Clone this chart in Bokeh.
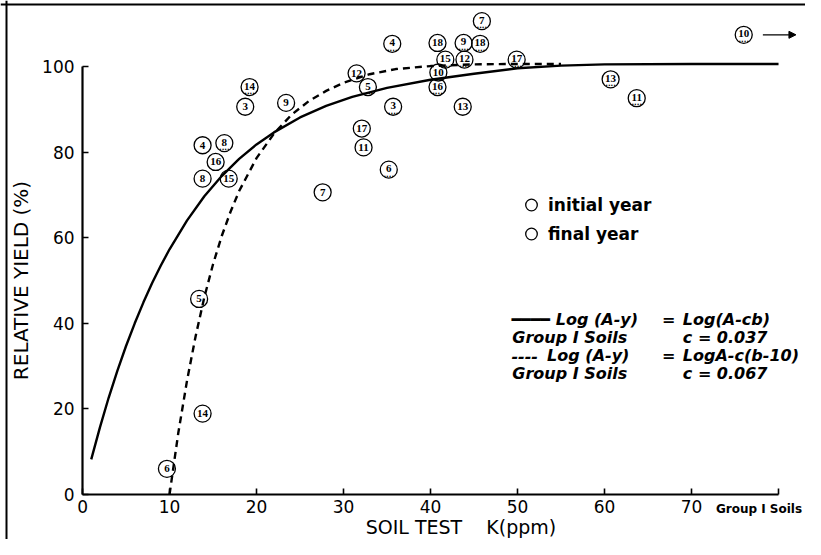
from bokeh.plotting import figure
from bokeh.models import (Range1d, LinearAxis, FixedTicker, Legend, LegendItem,
                          Arrow, NormalHead, Span, ColumnDataSource)
from bokeh.core.properties import value
from bokeh.embed import file_html
from bokeh.resources import INLINE

# ---------------- data ----------------
final_soil = ["3", "9", "4", "16", "8", "15", "7", "18", "12", "10", "13", "17", "11", "5", "14", "6"]
final_k = [18.7, 23.4, 13.8, 15.3, 13.8, 16.8, 27.6, 40.8, 31.5, 40.9, 43.7, 32.1, 32.3, 13.4, 13.8, 9.7]
final_yield = [90.6, 91.5, 81.6, 77.7, 73.8, 73.8, 70.6, 105.5, 98.4, 98.6, 90.6, 85.5, 81.1, 45.7, 18.9, 6.0]

initial_soil = ["14", "8", "7", "4", "9", "18", "15", "12", "17", "5", "16", "3", "6", "10", "13", "11"]
initial_k = [19.2, 16.3, 45.9, 35.6, 43.8, 45.7, 41.7, 43.9, 49.9, 32.8, 40.8, 35.7, 35.2, 76.0, 60.7, 63.7]
initial_yield = [95.2, 82.1, 110.6, 105.3, 105.5, 105.3, 101.6, 101.6, 101.6, 95.2, 95.2, 90.6, 75.9, 107.4, 97.0, 92.6]

# fitted curve c = 0.037 (solid)
solid_k = [1, 2, 3, 4, 5, 6, 7, 8, 9, 10, 12, 14, 16, 18, 20, 22, 25, 28, 31, 35, 40, 45, 50, 55, 60, 70, 80]
solid_yield = [8.2, 15.7, 22.6, 28.9, 34.7, 40.0, 44.9, 49.4, 53.5, 57.3, 64.0, 69.7, 74.4, 78.4, 81.8,
               84.6, 88.1, 90.8, 92.9, 95.0, 96.9, 98.3, 99.6, 100.2, 100.5, 100.6, 100.6]
# fitted curve c = 0.067 (dashed)
dashed_k = [10, 11, 12, 13, 14, 15, 16, 17, 18, 20, 22, 24, 26, 28, 30, 33, 36, 40, 45, 50, 55]
dashed_yield = [0.0, 14.3, 26.5, 37.0, 46.1, 53.8, 60.4, 66.0, 70.9, 78.6, 84.3, 88.7, 91.9, 94.3,
                96.2, 98.2, 99.4, 100.1, 100.5, 100.6, 100.6]

x_ticks = [0, 10, 20, 30, 40, 50, 60, 70, 80]
y_ticks = [0, 20, 40, 60, 80, 100]

# ---------------- figure ----------------
p = figure(width=805, height=539, x_range=Range1d(-9.43, 83.10), y_range=Range1d(-10.51, 115.42),
           output_backend="svg", toolbar_location=None, x_axis_type=None, y_axis_type=None,
           min_border=0)
p.outline_line_color = None
p.background_fill_color = "white"

FONT = "DejaVu Sans"

xa = LinearAxis(fixed_location=0, bounds=(0, 80), ticker=FixedTicker(ticks=x_ticks),
                major_label_overrides={80: ""},
                major_tick_in=6, major_tick_out=0, minor_tick_in=0, minor_tick_out=0,
                axis_line_width=2.2, major_tick_line_width=1.6,
                major_label_standoff=5, major_label_text_font_size="17px",
                major_label_text_font=FONT, major_label_text_color="black",
                axis_line_color="black", major_tick_line_color="black")
p.add_layout(xa, "below")

ya = LinearAxis(fixed_location=0, bounds=(0, 100), ticker=FixedTicker(ticks=y_ticks),
                major_tick_in=6, major_tick_out=0, minor_tick_in=0, minor_tick_out=0,
                axis_line_width=2.2, major_tick_line_width=1.6,
                major_label_standoff=8, major_label_text_font_size="17px",
                major_label_text_font=FONT, major_label_text_color="black",
                axis_label="RELATIVE YIELD (%)", axis_label_standoff=6,
                axis_label_text_font=FONT, axis_label_text_font_size="20px",
                axis_label_text_font_style="normal", axis_label_text_color="black",
                axis_line_color="black", major_tick_line_color="black")
p.add_layout(ya, "left")

# page frame (left and top edge of the scanned figure)
p.add_layout(Span(location=-8.74, dimension="height", line_color="black", line_width=2))
p.add_layout(Span(location=114.5, dimension="width", line_color="black", line_width=2))

# curves
p.line(solid_k, solid_yield, line_color="black", line_width=2.4)
p.line(dashed_k, dashed_yield, line_color="black", line_width=2.4, line_dash="7 5")

# points
src_f = ColumnDataSource(dict(x=final_k, y=final_yield, t=final_soil))
src_i = ColumnDataSource(dict(x=initial_k, y=initial_yield, t=initial_soil))
r_final = p.scatter("x", "y", source=src_f, marker="circle", size=17, fill_color=None,
                    line_color="black", line_width=1.3)
r_init = p.scatter("x", "y", source=src_i, marker="circle", size=17, fill_color=None,
                   line_color="black", line_width=1.3)
NUMFONT = value("Liberation Sans Narrow")
p.text("x", "y", text="t", source=src_f, text_font=NUMFONT, text_font_size="11px",
       text_font_style="bold", text_align="center", text_baseline="middle", text_color="black")
p.text("x", "y", text="t", source=src_i, text_font=NUMFONT, text_font_size="11px",
       text_font_style="bold", text_align="center", text_baseline="middle", text_color="black",
       y_offset=-1)
p.text("x", "y", text=value("...."), source=src_i, text_font=value(FONT), text_font_size="7px",
       text_font_style="bold", text_align="center", text_baseline="middle", text_color="black",
       y_offset=4)

# arrow for the off-scale point (soil 10, initial year)
i10 = initial_soil.index("10")
p.add_layout(Arrow(end=NormalHead(size=7, fill_color="black", line_color="black"),
                   x_start=initial_k[i10] + 2.2, y_start=initial_yield[i10],
                   x_end=initial_k[i10] + 6.0, y_end=initial_yield[i10],
                   line_color="black", line_width=1.3))

# legend
legend = Legend(items=[LegendItem(label="initial year", renderers=[r_init]),
                       LegendItem(label="final year", renderers=[r_final])],
                location=(514, 291), orientation="vertical",
                glyph_width=34, glyph_height=29, spacing=0, label_standoff=0,
                label_height=20,
                padding=0, margin=0, border_line_color=None, background_fill_alpha=0,
                label_text_font=FONT, label_text_font_size="17px",
                label_text_font_style="bold", label_text_color="black")
p.add_layout(legend, "center")

# axis title (x) and group note
p.text(x=[43.5], y=[-7.7], text=["SOIL TEST\u00a0\u00a0\u00a0\u00a0K(ppm)"], text_font=value(FONT),
       text_font_size="19px", text_align="center", text_baseline="middle", text_color="black")
p.text(x=[72.8], y=[-3.5], text=["Group I Soils"], text_font=value(FONT),
       text_font_size="12px", text_font_style="bold", text_align="left",
       text_baseline="middle", text_color="black")

# equation block
eq_x = [49.3, 54.4, 66.6, 69.0,
        49.4, 69.0,
        49.3, 53.4, 66.6, 69.0,
        49.4, 69.0]
eq_y = [40.9, 40.9, 40.9, 40.9,
        36.8, 36.8,
        32.4, 32.4, 32.4, 32.4,
        28.3, 28.3]
eq_t = ["━━━━", "Log (A-y)", "=", "Log(A-cb)",
        "Group I Soils", "c = 0.037",
        "----", "Log (A-y)", "=", "LogA-c(b-10)",
        "Group I Soils", "c = 0.067"]
p.text(x=eq_x, y=eq_y, text=eq_t, text_font=value(FONT), text_font_size="16px",
       text_font_style="bold italic", text_align="left", text_baseline="middle",
       text_color="black")

open("out.html", "w").write(file_html(p, INLINE))
